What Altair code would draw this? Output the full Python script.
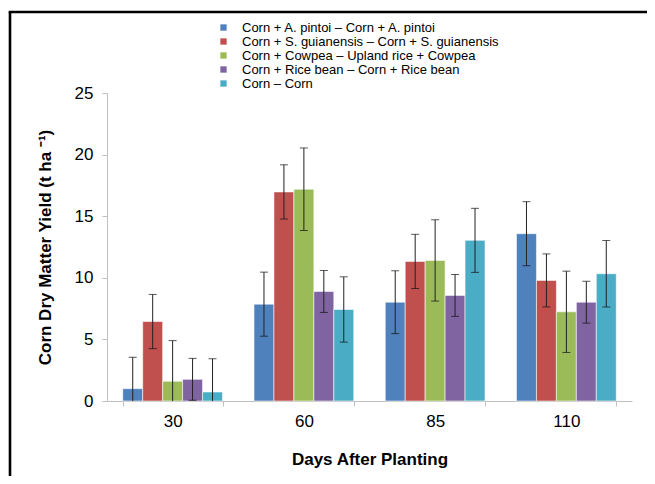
import altair as alt
import pandas as pd

days = ["30", "60", "85", "110"]
series = [
    "Corn + A. pintoi – Corn + A. pintoi",
    "Corn + S. guianensis – Corn + S. guianensis",
    "Corn + Cowpea – Upland rice + Cowpea",
    "Corn + Rice bean – Corn + Rice bean",
    "Corn – Corn",
]
colors = ["#4F81BD", "#C0504D", "#9BBB59", "#8064A2", "#4BACC6"]

# mean yield per series, one value per day
yield_apintoi = [1.0, 7.86, 8.02, 13.58]
yield_sguian = [6.45, 16.97, 11.33, 9.79]
yield_cowpea = [1.6, 17.19, 11.41, 7.24]
yield_ricebean = [1.76, 8.89, 8.57, 8.02]
yield_corn = [0.73, 7.43, 13.04, 10.33]

# error bar half-widths
err_apintoi = [2.55, 2.6, 2.55, 2.6]
err_sguian = [2.2, 2.2, 2.2, 2.15]
err_cowpea = [3.3, 3.35, 3.3, 3.3]
err_ricebean = [1.7, 1.7, 1.7, 1.7]
err_corn = [2.7, 2.65, 2.6, 2.7]

values = [yield_apintoi, yield_sguian, yield_cowpea, yield_ricebean, yield_corn]
errors = [err_apintoi, err_sguian, err_cowpea, err_ricebean, err_corn]

rows = []
for s, vals, errs in zip(series, values, errors):
    for d, v, e in zip(days, vals, errs):
        rows.append({"day": d, "series": s, "value": v,
                     "lo": max(0.0, v - e), "hi": v + e})
df = pd.DataFrame(rows)

FONT = "Liberation Sans"

x_enc = alt.X("day:N", sort=days,
              scale=alt.Scale(paddingInner=0.24, paddingOuter=0.12),
              axis=alt.Axis(title="Days After Planting", labelAngle=0,
                            tickBand="extent", tickSize=5, labelPadding=7,
                            titlePadding=22))
xo_enc = alt.XOffset("series:N", sort=series,
                     scale=alt.Scale(paddingInner=0, paddingOuter=0))

base = alt.Chart(df)

bars = base.mark_bar(stroke="white", strokeWidth=0.8, strokeOpacity=0.7).encode(
    x=x_enc,
    xOffset=xo_enc,
    y=alt.Y("value:Q", scale=alt.Scale(domain=[0, 25], nice=False),
            axis=alt.Axis(title="Corn Dry Matter Yield (t ha ⁻¹)",
                          values=[0, 5, 10, 15, 20, 25], tickSize=5,
                          labelPadding=9, titlePadding=20)),
    color=alt.Color("series:N",
                    scale=alt.Scale(domain=series, range=colors),
                    legend=alt.Legend(title=None, orient="none",
                                      legendX=110, legendY=-72,
                                      symbolType="square", symbolSize=40,
                                      symbolStrokeWidth=0,
                                      labelFontSize=13, labelFont=FONT,
                                      labelOffset=12, rowPadding=0,
                                      labelLimit=400)),
)

err_rule = base.mark_rule(color="#222222", strokeWidth=1).encode(
    x=alt.X("day:N", sort=days), xOffset=xo_enc,
    y="lo:Q", y2="hi:Q")

cap_hi = base.mark_tick(color="#111111", thickness=1, size=8).encode(
    x=alt.X("day:N", sort=days), xOffset=xo_enc, y="hi:Q")

cap_lo = base.transform_filter("datum.lo > 0").mark_tick(
    color="#111111", thickness=1, size=8).encode(
    x=alt.X("day:N", sort=days), xOffset=xo_enc, y="lo:Q")

frame_left = alt.Chart(pd.DataFrame({"a": [0]})).mark_rule(
    color="black", strokeWidth=2.6).encode(
    x=alt.value(-97), y=alt.value(-81), y2=alt.value(400))
frame_top = alt.Chart(pd.DataFrame({"a": [0]})).mark_rule(
    color="black", strokeWidth=2.6).encode(
    x=alt.value(-98.3), x2=alt.value(560), y=alt.value(-81))

chart = alt.layer(bars, err_rule, cap_hi, cap_lo, frame_left, frame_top).properties(
    width=525, height=308,
    autosize=alt.AutoSizeParams(type="none"),
    padding={"left": 99, "top": 85, "right": 15, "bottom": 75},
).configure_view(stroke=None).configure_axis(
    grid=False,
    domainColor="#BFBFBF", tickColor="#BFBFBF",
    labelFont=FONT, labelFontSize=17, labelColor="black",
    titleFont=FONT, titleFontSize=17, titleFontWeight="bold", titleColor="black",
)

chart.save("out.html", embed_options={"renderer": "svg", "actions": False})
